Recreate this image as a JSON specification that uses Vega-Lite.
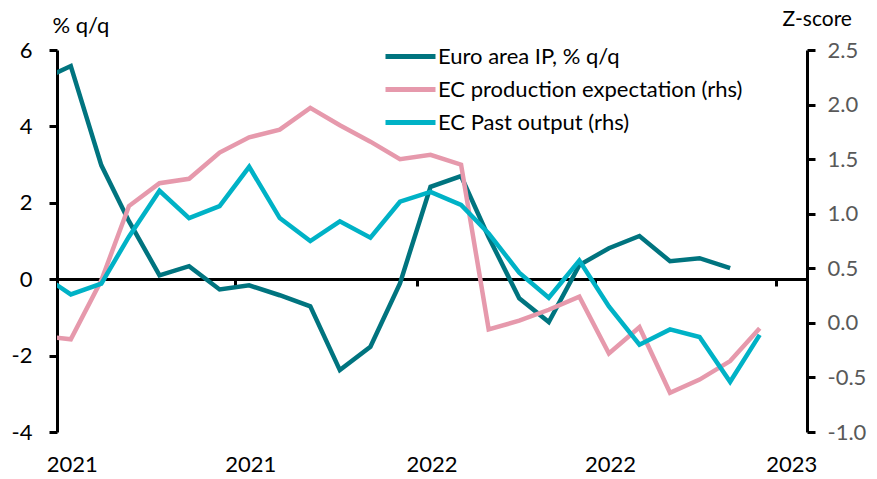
{
  "$schema": "https://vega.github.io/schema/vega-lite/v6.json",
  "width": 750,
  "height": 382,
  "autosize": {"type": "none"},
  "padding": {"left": 57, "top": 50, "right": 70, "bottom": 47},
  "background": "white",
  "config": {"font": "Lato", "view": {"stroke": null}, "axis": {"grid": false}},
  "data": {
    "values": [
      {"date": "2020-12-15", "series": "Euro area IP, % q/q", "value": 5.2},
      {"date": "2021-01-15", "series": "Euro area IP, % q/q", "value": 5.58},
      {"date": "2021-02-15", "series": "Euro area IP, % q/q", "value": 2.98},
      {"date": "2021-03-15", "series": "Euro area IP, % q/q", "value": 1.52},
      {"date": "2021-04-15", "series": "Euro area IP, % q/q", "value": 0.1},
      {"date": "2021-05-15", "series": "Euro area IP, % q/q", "value": 0.34},
      {"date": "2021-06-15", "series": "Euro area IP, % q/q", "value": -0.27},
      {"date": "2021-07-15", "series": "Euro area IP, % q/q", "value": -0.16},
      {"date": "2021-08-15", "series": "Euro area IP, % q/q", "value": -0.42},
      {"date": "2021-09-15", "series": "Euro area IP, % q/q", "value": -0.71},
      {"date": "2021-10-15", "series": "Euro area IP, % q/q", "value": -2.38},
      {"date": "2021-11-15", "series": "Euro area IP, % q/q", "value": -1.77},
      {"date": "2021-12-15", "series": "Euro area IP, % q/q", "value": -0.11},
      {"date": "2022-01-15", "series": "Euro area IP, % q/q", "value": 2.42},
      {"date": "2022-02-15", "series": "Euro area IP, % q/q", "value": 2.7},
      {"date": "2022-03-15", "series": "Euro area IP, % q/q", "value": 1.1},
      {"date": "2022-04-15", "series": "Euro area IP, % q/q", "value": -0.5},
      {"date": "2022-05-15", "series": "Euro area IP, % q/q", "value": -1.12},
      {"date": "2022-06-15", "series": "Euro area IP, % q/q", "value": 0.37},
      {"date": "2022-07-15", "series": "Euro area IP, % q/q", "value": 0.81},
      {"date": "2022-08-15", "series": "Euro area IP, % q/q", "value": 1.13},
      {"date": "2022-09-15", "series": "Euro area IP, % q/q", "value": 0.47},
      {"date": "2022-10-15", "series": "Euro area IP, % q/q", "value": 0.55},
      {"date": "2022-11-15", "series": "Euro area IP, % q/q", "value": 0.29},

      {"date": "2020-12-15", "series": "EC production expectation (rhs)", "value": -0.12},
      {"date": "2021-01-15", "series": "EC production expectation (rhs)", "value": -0.15},
      {"date": "2021-02-15", "series": "EC production expectation (rhs)", "value": 0.39},
      {"date": "2021-03-15", "series": "EC production expectation (rhs)", "value": 1.07},
      {"date": "2021-04-15", "series": "EC production expectation (rhs)", "value": 1.28},
      {"date": "2021-05-15", "series": "EC production expectation (rhs)", "value": 1.32},
      {"date": "2021-06-15", "series": "EC production expectation (rhs)", "value": 1.56},
      {"date": "2021-07-15", "series": "EC production expectation (rhs)", "value": 1.7},
      {"date": "2021-08-15", "series": "EC production expectation (rhs)", "value": 1.77},
      {"date": "2021-09-15", "series": "EC production expectation (rhs)", "value": 1.97},
      {"date": "2021-10-15", "series": "EC production expectation (rhs)", "value": 1.81},
      {"date": "2021-11-15", "series": "EC production expectation (rhs)", "value": 1.66},
      {"date": "2021-12-15", "series": "EC production expectation (rhs)", "value": 1.5},
      {"date": "2022-01-15", "series": "EC production expectation (rhs)", "value": 1.54},
      {"date": "2022-02-15", "series": "EC production expectation (rhs)", "value": 1.45},
      {"date": "2022-03-15", "series": "EC production expectation (rhs)", "value": -0.06},
      {"date": "2022-04-15", "series": "EC production expectation (rhs)", "value": 0.02},
      {"date": "2022-05-15", "series": "EC production expectation (rhs)", "value": 0.12},
      {"date": "2022-06-15", "series": "EC production expectation (rhs)", "value": 0.24},
      {"date": "2022-07-15", "series": "EC production expectation (rhs)", "value": -0.28},
      {"date": "2022-08-15", "series": "EC production expectation (rhs)", "value": -0.04},
      {"date": "2022-09-15", "series": "EC production expectation (rhs)", "value": -0.64},
      {"date": "2022-10-15", "series": "EC production expectation (rhs)", "value": -0.52},
      {"date": "2022-11-15", "series": "EC production expectation (rhs)", "value": -0.35},
      {"date": "2022-12-15", "series": "EC production expectation (rhs)", "value": -0.05},

      {"date": "2020-12-15", "series": "EC Past output (rhs)", "value": 0.45},
      {"date": "2021-01-15", "series": "EC Past output (rhs)", "value": 0.26},
      {"date": "2021-02-15", "series": "EC Past output (rhs)", "value": 0.36},
      {"date": "2021-03-15", "series": "EC Past output (rhs)", "value": 0.79},
      {"date": "2021-04-15", "series": "EC Past output (rhs)", "value": 1.21},
      {"date": "2021-05-15", "series": "EC Past output (rhs)", "value": 0.96},
      {"date": "2021-06-15", "series": "EC Past output (rhs)", "value": 1.07},
      {"date": "2021-07-15", "series": "EC Past output (rhs)", "value": 1.43},
      {"date": "2021-08-15", "series": "EC Past output (rhs)", "value": 0.96},
      {"date": "2021-09-15", "series": "EC Past output (rhs)", "value": 0.75},
      {"date": "2021-10-15", "series": "EC Past output (rhs)", "value": 0.93},
      {"date": "2021-11-15", "series": "EC Past output (rhs)", "value": 0.78},
      {"date": "2021-12-15", "series": "EC Past output (rhs)", "value": 1.11},
      {"date": "2022-01-15", "series": "EC Past output (rhs)", "value": 1.2},
      {"date": "2022-02-15", "series": "EC Past output (rhs)", "value": 1.08},
      {"date": "2022-03-15", "series": "EC Past output (rhs)", "value": 0.82},
      {"date": "2022-04-15", "series": "EC Past output (rhs)", "value": 0.46},
      {"date": "2022-05-15", "series": "EC Past output (rhs)", "value": 0.23},
      {"date": "2022-06-15", "series": "EC Past output (rhs)", "value": 0.57},
      {"date": "2022-07-15", "series": "EC Past output (rhs)", "value": 0.15},
      {"date": "2022-08-15", "series": "EC Past output (rhs)", "value": -0.2},
      {"date": "2022-09-15", "series": "EC Past output (rhs)", "value": -0.06},
      {"date": "2022-10-15", "series": "EC Past output (rhs)", "value": -0.13},
      {"date": "2022-11-15", "series": "EC Past output (rhs)", "value": -0.54},
      {"date": "2022-12-15", "series": "EC Past output (rhs)", "value": -0.11}
    ]
  },
  "layer": [
    {
      "transform": [{"filter": "datum.series === 'Euro area IP, % q/q'"}],
      "mark": {"type": "line", "strokeWidth": 4.5, "clip": true, "strokeJoin": "miter"},
      "encoding": {
        "x": {
          "field": "date", "type": "temporal",
          "scale": {"type": "utc", "domain": [{"year": 2021, "month": 1, "date": 1, "utc": true}, {"year": 2023, "month": 2, "date": 1, "utc": true}]},
          "axis": {
            "orient": "bottom", "title": null, "domain": false, "ticks": false, "grid": false,
            "values": [{"year": 2021, "month": 1, "date": 16, "utc": true}, {"year": 2021, "month": 7, "date": 16, "utc": true}, {"year": 2022, "month": 1, "date": 16, "utc": true}, {"year": 2022, "month": 7, "date": 16, "utc": true}, {"year": 2023, "month": 1, "date": 16, "utc": true}],
            "format": "%Y", "labelFontSize": 22, "labelColor": "black", "labelPadding": 22,
            "labelAlign": "center", "labelFlush": false, "labelOverlap": false
          }
        },
        "y": {
          "field": "value", "type": "quantitative",
          "scale": {"domain": [-4, 6], "nice": false, "zero": false},
          "axis": {
            "orient": "left", "values": [-4, -2, 0, 2, 4, 6], "grid": false,
            "labelExpr": "(datum.value < 0 ? '-' : '') + format(abs(datum.value), 'd')",
            "domainColor": "black", "domainWidth": 3, "tickColor": "black", "tickWidth": 3, "tickSize": 8,
            "labelFontSize": 22, "labelColor": "black", "labelPadding": 17,
            "title": "% q/q", "titleAngle": 0, "titleAlign": "left", "titleBaseline": "alphabetic",
            "titleX": -5, "titleY": -18, "titleFontSize": 22, "titleFontWeight": "normal", "titleColor": "black"
          }
        },
        "color": {
          "field": "series", "type": "nominal",
          "scale": {"domain": ["Euro area IP, % q/q", "EC production expectation (rhs)", "EC Past output (rhs)"], "range": ["#00747F", "#E699AC", "#00B2C6"]},
          "legend": {
            "orient": "none", "legendX": 326, "legendY": -10, "title": null,
            "symbolType": "stroke", "symbolStrokeWidth": 5, "symbolSize": 2500, "clipHeight": 33,
            "labelFontSize": 22, "labelColor": "black", "labelOffset": 0, "rowPadding": 0, "labelLimit": 500
          }
        }
      }
    },
    {
      "transform": [{"filter": "datum.series !== 'Euro area IP, % q/q'"}],
      "mark": {"type": "line", "strokeWidth": 4.5, "clip": true, "strokeJoin": "miter"},
      "encoding": {
        "x": {
          "field": "date", "type": "temporal",
          "axis": {
            "orient": "bottom", "offset": -153, "title": null, "labels": false, "grid": false,
            "values": [{"year": 2021, "month": 1, "date": 1, "utc": true}, {"year": 2021, "month": 7, "date": 1, "utc": true}, {"year": 2022, "month": 1, "date": 1, "utc": true}, {"year": 2022, "month": 7, "date": 1, "utc": true}, {"year": 2023, "month": 1, "date": 1, "utc": true}],
            "domainColor": "black", "domainWidth": 3, "tickColor": "black", "tickWidth": 3, "tickSize": 7
          }
        },
        "y": {
          "field": "value", "type": "quantitative",
          "scale": {"domain": [-1, 2.5], "nice": false, "zero": false},
          "axis": {
            "orient": "right", "values": [-1, -0.5, 0, 0.5, 1, 1.5, 2, 2.5], "grid": false,
            "labelExpr": "(datum.value < 0 ? '-' : '') + format(abs(datum.value), '.1f')",
            "domainColor": "black", "domainWidth": 3, "tickColor": "black", "tickWidth": 3, "tickSize": 8,
            "labelFontSize": 22, "labelColor": "#595959", "labelPadding": 12,
            "title": "Z-score", "titleAngle": 0, "titleAlign": "left", "titleBaseline": "alphabetic",
            "titleX": -25, "titleY": -25, "titleFontSize": 21, "titleFontWeight": "normal", "titleColor": "black"
          }
        },
        "color": {"field": "series", "type": "nominal"}
      }
    }
  ],
  "resolve": {"scale": {"y": "independent"}, "axis": {"x": "independent"}}
}
